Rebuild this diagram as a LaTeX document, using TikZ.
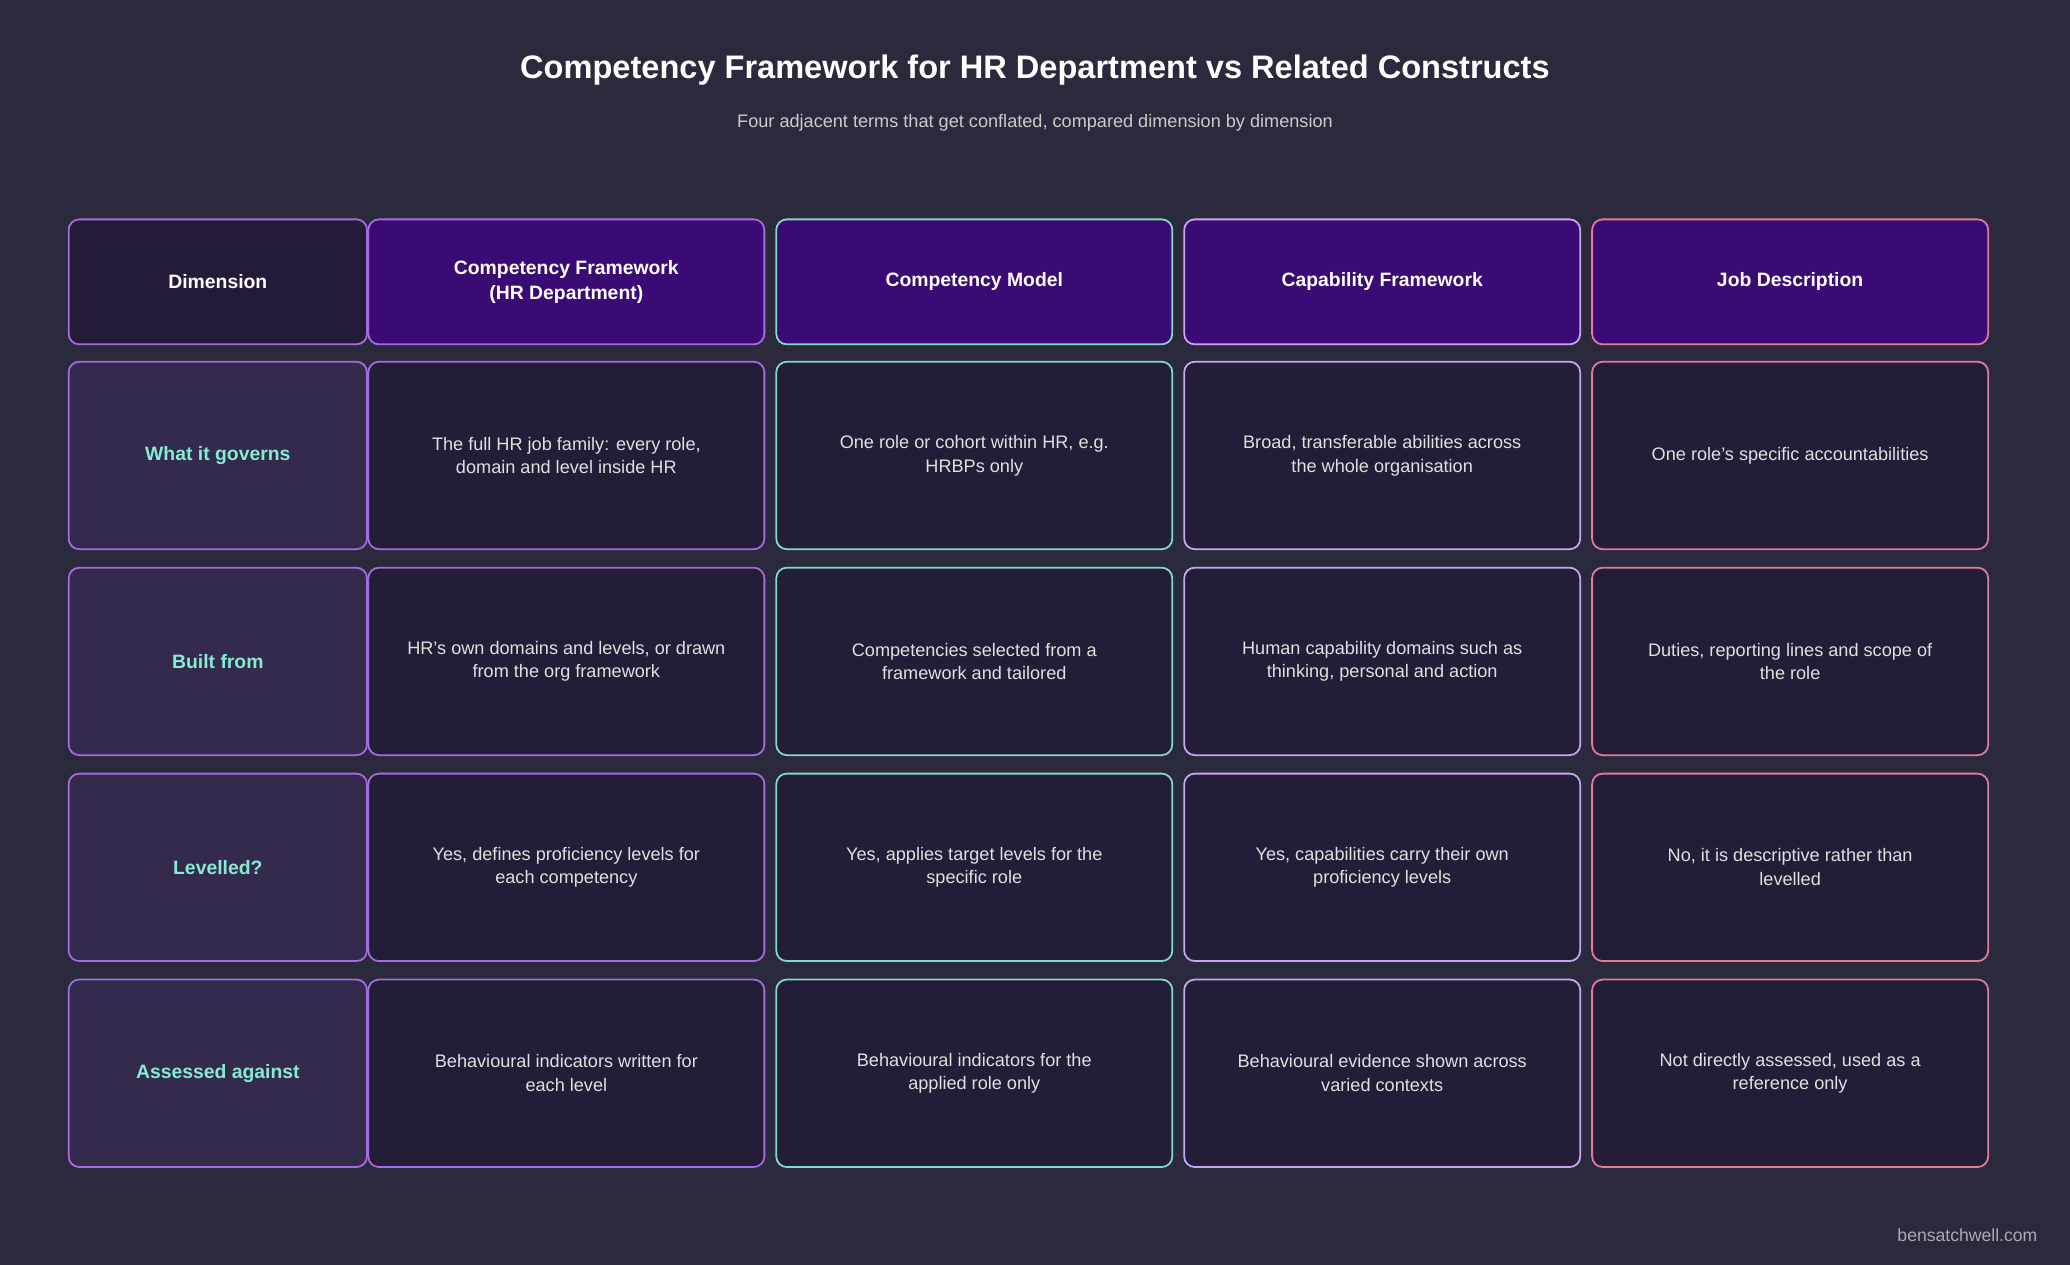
\documentclass[tikz,border=0pt]{standalone}
\usepackage{fontspec}
\setmainfont{Liberation Sans}
\usetikzlibrary{positioning}
\definecolor{bgc}{HTML}{2B2A3C}
\definecolor{dimfill}{HTML}{241B3A}
\definecolor{headfill}{HTML}{3A0B74}
\definecolor{rowfill}{HTML}{342A4E}
\definecolor{cellfill}{HTML}{241D37}
\definecolor{purp}{HTML}{A66BE0}
\definecolor{teal}{HTML}{7FDCC8}
\definecolor{lav}{HTML}{C9A6F0}
\definecolor{pink}{HTML}{E47A9A}
\definecolor{mint}{HTML}{86EBD3}
\tikzset{
  cell/.style={draw=#1, line width=1pt, rounded corners=6pt, fill=cellfill, text=white!88!black,
    align=center, font=\fontsize{10.3}{13.5}\selectfont},
  head/.style={cell=#1, fill=headfill, text=white, font=\bfseries\fontsize{11}{14.5}\selectfont},
  dimc/.style={draw=purp, line width=1pt, rounded corners=6pt, fill=rowfill, text=mint,
    font=\bfseries\fontsize{11}{14}\selectfont, minimum width=169.5pt, minimum height=106.5pt},
  wide/.style={minimum width=225pt, minimum height=106.5pt},
}
\begin{document}
\begin{tikzpicture}[x=0.75pt,y=-0.75pt]
\fill[bgc] (0,0) rectangle (1568,958);
\useasboundingbox (0,0) rectangle (1568,958);

\node[text=white, font=\bfseries\fontsize{18.5}{22}\selectfont] (title) at (784,53) {Competency Framework for HR Department vs Related Constructs};
\node[text=white!80!black, font=\fontsize{10.3}{13}\selectfont] (sub) at (784,93) {Four adjacent terms that get conflated, compared dimension by dimension};

% header row
\node[dimc, fill=dimfill, text=white, minimum height=71pt] (h0) at (165,213.5) {Dimension};
\node[head=purp, minimum width=225pt, minimum height=71pt] (h1) at (429,213.5) {Competency Framework\\(HR Department)};
\node[head=teal, minimum width=225pt, minimum height=71pt] (h2) at (738,213.5) {Competency Model};
\node[head=lav, minimum width=225pt, minimum height=71pt] (h3) at (1047,213.5) {Capability Framework};
\node[head=pink, minimum width=225pt, minimum height=71pt] (h4) at (1356,213.5) {Job Description};

% row 1
\node[dimc] (d1) at (165,345) {What it governs};
\node[cell=purp, wide] (c11) at (429,345) {The full HR job family: every role,\\domain and level inside HR};
\node[cell=teal, wide] (c12) at (738,345) {One role or cohort within HR, e.g.\\HRBPs only};
\node[cell=lav, wide] (c13) at (1047,345) {Broad, transferable abilities across\\the whole organisation};
\node[cell=pink, wide] (c14) at (1356,345) {One role's specific accountabilities};

% row 2
\node[dimc] (d2) at (165,501) {Built from};
\node[cell=purp, wide] (c21) at (429,501) {HR's own domains and levels, or drawn\\from the org framework};
\node[cell=teal, wide] (c22) at (738,501) {Competencies selected from a\\framework and tailored};
\node[cell=lav, wide] (c23) at (1047,501) {Human capability domains such as\\thinking, personal and action};
\node[cell=pink, wide] (c24) at (1356,501) {Duties, reporting lines and scope of\\the role};

% row 3
\node[dimc] (d3) at (165,657) {Levelled?};
\node[cell=purp, wide] (c31) at (429,657) {Yes, defines proficiency levels for\\each competency};
\node[cell=teal, wide] (c32) at (738,657) {Yes, applies target levels for the\\specific role};
\node[cell=lav, wide] (c33) at (1047,657) {Yes, capabilities carry their own\\proficiency levels};
\node[cell=pink, wide] (c34) at (1356,657) {No, it is descriptive rather than\\levelled};

% row 4
\node[dimc] (d4) at (165,813) {Assessed against};
\node[cell=purp, wide] (c41) at (429,813) {Behavioural indicators written for\\each level};
\node[cell=teal, wide] (c42) at (738,813) {Behavioural indicators for the\\applied role only};
\node[cell=lav, wide] (c43) at (1047,813) {Behavioural evidence shown across\\varied contexts};
\node[cell=pink, wide] (c44) at (1356,813) {Not directly assessed, used as a\\reference only};

\node[anchor=east, text=white!60!bgc, font=\fontsize{10}{12}\selectfont] (site) at (1548,936) {bensatchwell.com};
\end{tikzpicture}
\end{document}
